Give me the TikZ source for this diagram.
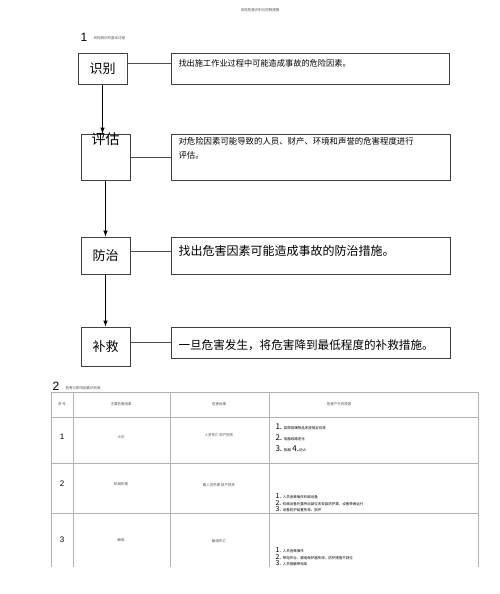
\documentclass[tikz,border=0pt]{standalone}
\usepackage{fontspec}
\newfontfamily\cjk{Noto Sans CJK SC}
\setmainfont{Liberation Sans}
\newcommand{\fs}[1]{\fontsize{#1}{#1}\selectfont}

\begin{document}
\begin{tikzpicture}[x=1pt,y=-1pt,
	box/.style={draw=black!75, line width=1pt, inner sep=0pt},
	cell/.style={font=\cjk\fs{3.5}, text=black!70},
	num/.style={font=\fs{8}}]

	\useasboundingbox (0,0) rectangle (500,594);
	\node[cell] (head) at (260,10) {风险危害识别与控制措施};

	% part 1
	\node[font=\fs{12}] (one) at (84,37) {1};
	\node[cell, anchor=west] (onet) at (90,38) {风险辨识的基本过程};

	\node[box, minimum width=49, minimum height=30] (sb) at (102.5,69) {\cjk\fs{13}识别};
	\node[box, minimum width=278, minimum height=30] (sbt) at (310,69) {};
	\node[anchor=north west, font=\cjk\fs{8.2}] (sbx) at (175,56) {找出施工作业过程中可能造成事故的危险因素。};

	\node[box, minimum width=49, minimum height=46] (pg) at (105.5,157) {};
	\node[anchor=north, font=\cjk\fs{14}, inner sep=0pt] (pgl) at (105.5,133) {评估};
	\node[box, minimum width=279, minimum height=46] (pgt) at (310.5,157) {};
	\node[anchor=north west, font=\cjk\fontsize{8.4}{14}\selectfont, align=left] (pgx) at (175,134)
		{对危险因素可能导致的人员、财产、环境和声誉的危害程度进行\\评估。};

	\node[box, minimum width=49, minimum height=37] (fz) at (105.5,255.5) {\cjk\fs{13}防治};
	\node[box, minimum width=279, minimum height=37] (fzt) at (310.5,255.5) {};
	\node[anchor=west, font=\cjk\fs{12}] (fzx) at (175,251) {找出危害因素可能造成事故的防治措施。};

	\node[box, minimum width=49, minimum height=39] (jh) at (105.5,346.5) {\cjk\fs{13}补救};
	\node[box, minimum width=279, minimum height=31] (jht) at (310.5,342.5) {};
	\node[anchor=west, font=\cjk\fs{11.6}] (jhx) at (175,345) {一旦危害发生，将危害降到最低程度的补救措施。};

	\draw[line width=1.6pt, black!70] (sb.east |- sbx.west) -- (sbt.west |- sbx.west);
	\draw[black!70] (pg.east) -- (pgt.west);
	\draw[black!70] (fz.east |- fzx.west) -- (fzt.west |- fzx.west);
	\draw[black!70] (jh.east |- jht.west) -- (jht.west);

	\draw[-latex, line width=1pt] (sb.south) -- (sb.south |- pg.north);
	\draw[-latex, line width=1pt] (pg.south) -- (fz.north);
	\draw[-latex, line width=1pt] (fz.south) -- (jh.north);

	% part 2
	\node[font=\fs{12}] (two) at (56,386) {2};
	\node[cell, anchor=west] (twot) at (62,388) {危害与影响因素识别表};

	\draw[black!30, line width=0.6pt] (51,567) -- (51,392) -- (478,392) -- (478,567);
	\foreach \y in {417,463,513} \draw[black!30, line width=0.6pt] (51,\y) -- (478,\y);
	\foreach \x in {73,170,269} \draw[black!30, line width=0.6pt] (\x,392) -- (\x,567);

	\node[cell] (h1) at (62,404) {序 号};
	\node[cell] (h2) at (121,404) {主要危害因素};
	\node[cell] (h3) at (219,404) {危害后果};
	\node[cell] (h4) at (339,404) {危害产生的原因};

	\node[num] (r1) at (62,437) {1};
	\node[cell] (r1a) at (121,437) {火灾};
	\node[cell] (r1b) at (219,435) {人员伤亡 财产损失};
	\node[anchor=west, align=left, font=\cjk\fs{3.5}] (r1c) at (272,438)
		{{\fs{8}1.}\ \ 易燃易爆物品未按规定存放\\[4pt]{\fs{8}2.}\ \ 电器线路老化\\[4pt]{\fs{8}3.}\ \ 吸烟\ \ {\fs{8}4.}动火};

	\node[num] (r2) at (62,484) {2};
	\node[cell] (r2a) at (121,484) {机械伤害};
	\node[cell] (r2b) at (219,485) {致人员伤害 财产损失};
	\node[anchor=west, align=left, font=\cjk\fs{3.5}] (r2c) at (272,503)
		{{\fs{7}1.}\ \ 人员违章操作机械设备\\{\fs{7}2.}\ \ 机械设备外露传动部位未安装防护罩，设备带病运行\\{\fs{7}3.}\ \ 设备防护装置失效、损坏};

	\node[num] (r3) at (62,540) {3};
	\node[cell] (r3a) at (121,540) {触电};
	\node[cell] (r3b) at (219,541) {触电伤亡};
	\node[anchor=west, align=left, font=\cjk\fs{3.5}] (r3c) at (272,557)
		{{\fs{7}1.}\ \ 人员违章操作\\{\fs{7}2.}\ \ 带电作业、漏电保护器失效、防护措施不到位\\{\fs{7}3.}\ \ 人员接触带电体};
\end{tikzpicture}
\end{document}
